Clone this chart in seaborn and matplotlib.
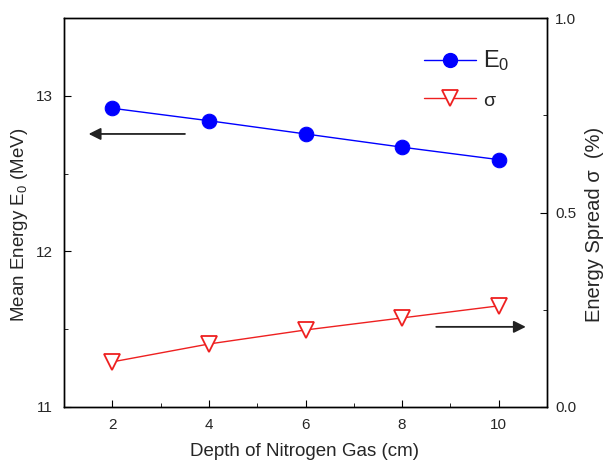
import matplotlib
matplotlib.use("Agg")
import matplotlib.pyplot as plt
import seaborn as sns
import pandas as pd
from matplotlib.ticker import MultipleLocator
from matplotlib.lines import Line2D

depth = [2, 4, 6, 8, 10]
energy = [12.92, 12.84, 12.755, 12.67, 12.59]
spread = [0.116, 0.162, 0.198, 0.229, 0.26]

sns.set_style("ticks")
plt.rcParams['font.family'] = ['Liberation Sans', 'DejaVu Sans']
plt.rcParams['mathtext.fontset'] = 'custom'
plt.rcParams['mathtext.rm'] = 'Liberation Sans'
plt.rcParams['mathtext.it'] = 'Liberation Sans'

df = pd.DataFrame({"depth": depth, "energy": energy, "spread": spread})

fig = plt.figure(figsize=(6.05, 4.63), dpi=100)
ax = fig.add_axes([0.106, 0.121, 0.798, 0.840])
ax2 = ax.twinx()

sns.lineplot(data=df, x="depth", y="energy", ax=ax, color="#0000ff", lw=1,
             marker="o", markersize=10.5, markeredgecolor="#0000ff")
sns.lineplot(data=df, x="depth", y="spread", ax=ax2, color="#ee2020", lw=1,
             marker="v", markersize=12, markerfacecolor="white",
             markeredgecolor="#ee2020", markeredgewidth=1.3)

ax.set_xlim(1, 11)
ax.set_ylim(11, 13.5)
ax2.set_ylim(0, 1.0)
ax.xaxis.set_major_locator(MultipleLocator(2))
ax.xaxis.set_minor_locator(MultipleLocator(1))
ax.yaxis.set_major_locator(MultipleLocator(1))
ax.yaxis.set_minor_locator(MultipleLocator(0.5))
ax2.yaxis.set_major_locator(MultipleLocator(0.5))
ax2.yaxis.set_minor_locator(MultipleLocator(0.25))
ax2.set_yticks([0.0, 0.5, 1.0], ["0.0", "0.5", "1.0"])

for a in (ax, ax2):
    a.tick_params(which="both", direction="in", labelsize=11, color="black")
    a.tick_params(which="major", length=5)
    a.tick_params(which="minor", length=3)
    for s in a.spines.values():
        s.set_visible(True)
        s.set_color("black")
        s.set_linewidth(1)
ax.tick_params(axis="x", pad=8)
ax.tick_params(axis="y", pad=8)
ax2.tick_params(axis="y", pad=6)

ax.set_xlabel("Depth of Nitrogen Gas (cm)", fontsize=13.5)
ax.set_ylabel("Mean Energy E$_0$ (MeV)", fontsize=13.5)
ax2.set_ylabel("Energy Spread σ  (%)", fontsize=14.5)
ax.xaxis.set_label_coords(305 / 605, 1 - 451 / 463, transform=fig.transFigure)
ax.xaxis.label.set_va("center")
ax.yaxis.set_label_coords(20 / 605, 1 - 225 / 463, transform=fig.transFigure)
ax.yaxis.label.set_va("center")
ax2.yaxis.set_label_coords(595 / 605, 1 - 224 / 463, transform=fig.transFigure)
ax2.yaxis.label.set_va("center")

ax.annotate("", xy=(1.45, 12.755), xytext=(3.56, 12.755),
            arrowprops=dict(arrowstyle="-|>", color="#222222", lw=1.3, mutation_scale=18))
ax2.annotate("", xy=(10.62, 0.206), xytext=(8.65, 0.206),
             arrowprops=dict(arrowstyle="-|>", color="#222222", lw=1.3, mutation_scale=18))

handles = [
    Line2D([], [], color="#0000ff", lw=1, marker="o", markersize=10),
    Line2D([], [], color="#ee2020", lw=1, marker="v", markersize=12,
           markerfacecolor="white", markeredgecolor="#ee2020", markeredgewidth=1.3),
]
leg = ax2.legend(handles, ["E$_0$", "σ"], loc="upper left",
                 bbox_to_anchor=(0.705, 0.973), frameon=False, fontsize=16,
                 handlelength=2.3, handletextpad=0.35, labelspacing=0.75)
leg.get_texts()[0].set_fontsize(17)
leg.get_texts()[1].set_fontsize(14)

fig.savefig("out.png", dpi=100)
